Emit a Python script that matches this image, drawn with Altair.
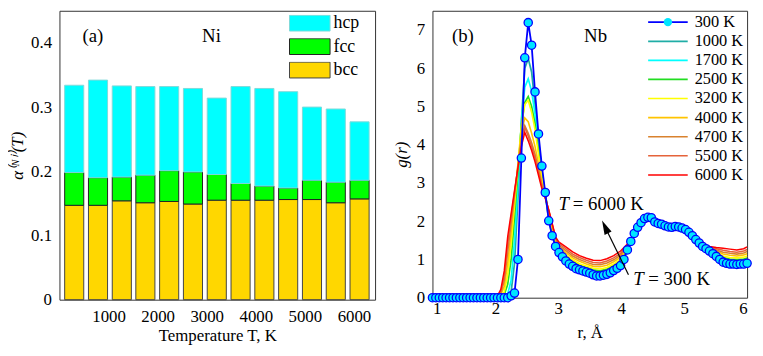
import altair as alt
import pandas as pd

SERIF = "Liberation Serif"

# ---------------- panel (a): Ni stacked bars ----------------
temps = [300, 785, 1270, 1750, 2235, 2720, 3205, 3690, 4175, 4660, 5145, 5630, 6115]
bcc = [0.147, 0.147, 0.154, 0.151, 0.153, 0.149, 0.155, 0.155, 0.155, 0.156, 0.156, 0.151, 0.157]
fcc = [0.051, 0.043, 0.037, 0.043, 0.048, 0.050, 0.040, 0.026, 0.022, 0.018, 0.030, 0.032, 0.029]
hcp = [0.136, 0.152, 0.142, 0.138, 0.131, 0.130, 0.119, 0.151, 0.152, 0.150, 0.114, 0.114, 0.091]
phases = ["hcp", "fcc", "bcc"]
phase_fill = ["#00FFFF", "#00FF00", "#FFD700"]
phase_edge = ["#7FDADA", "#222222", "#444444"]
t_ticks = [1000, 2000, 3000, 4000, 5000, 6000]
a_ticks = [0, 0.1, 0.2, 0.3, 0.4]

# ---------------- panel (b): Nb g(r) ----------------
r_300 = [1.000, 1.054, 1.109, 1.163, 1.217, 1.272, 1.326, 1.380, 1.435, 1.489,
         1.543, 1.598, 1.652, 1.707, 1.761, 1.815, 1.870, 1.924, 1.978, 2.033,
         2.087, 2.141, 2.196, 2.250, 2.304, 2.359, 2.413, 2.467, 2.522, 2.576,
         2.630, 2.685, 2.739, 2.793, 2.848, 2.902, 2.957, 3.011, 3.065, 3.120,
         3.174, 3.228, 3.283, 3.337, 3.391, 3.446, 3.500, 3.554, 3.609, 3.663,
         3.717, 3.772, 3.826, 3.880, 3.935, 3.989, 4.043, 4.098, 4.152, 4.207,
         4.261, 4.315, 4.370, 4.424, 4.478, 4.533, 4.587, 4.641, 4.696, 4.750,
         4.804, 4.859, 4.913, 4.967, 5.022, 5.076, 5.130, 5.185, 5.239, 5.293,
         5.348, 5.402, 5.457, 5.511, 5.565, 5.620, 5.674, 5.728, 5.783, 5.837,
         5.891, 5.946, 6.000]
g_300 = [0, 0, 0, 0, 0, 0, 0, 0, 0, 0,
         0, 0, 0, 0, 0, 0, 0, 0, 0, 0,
         0, 0, 0, 0.05, 0.12, 1.0, 3.65, 6.27, 7.19, 6.6,
         5.38, 4.28, 3.44, 2.75, 2.01, 1.62, 1.34, 1.18, 1.07, 0.96,
         0.88, 0.82, 0.76, 0.73, 0.70, 0.67, 0.64, 0.60, 0.57, 0.57,
         0.59, 0.61, 0.65, 0.71, 0.77, 0.84, 1.0, 1.25, 1.47, 1.68,
         1.84, 1.96, 2.07, 2.10, 2.09, 1.98, 1.94, 1.92, 1.88, 1.85,
         1.84, 1.86, 1.85, 1.82, 1.78, 1.71, 1.62, 1.52, 1.43, 1.34,
         1.28, 1.22, 1.15, 1.08, 1.0, 0.93, 0.90, 0.88, 0.88, 0.87,
         0.88, 0.88, 0.90]

r_lines = [1.0, 1.924, 1.978, 2.033, 2.087, 2.141, 2.196, 2.250, 2.304, 2.359,
           2.413, 2.467, 2.522, 2.576, 2.630, 2.685, 2.739, 2.793, 2.848, 2.902,
           2.957, 3.011, 3.120, 3.228, 3.337, 3.446, 3.554, 3.663, 3.772, 3.880,
           3.989, 4.098, 4.207, 4.315, 4.424, 4.533, 4.641, 4.750, 4.859, 4.967,
           5.076, 5.185, 5.293, 5.402, 5.511, 5.620, 5.728, 5.837, 5.946, 6.0]
g_1000 = [0, 0, 0, 0, 0, 0, 0.02, 0.15, 0.9, 2.6,
          4.6, 6.0, 6.25, 5.9, 5.05, 4.1, 3.3, 2.7, 2.05, 1.65,
          1.38, 1.22, 1.01, 0.87, 0.78, 0.72, 0.65, 0.62, 0.66, 0.76,
          0.89, 1.27, 1.68, 1.95, 2.09, 1.99, 1.93, 1.86, 1.86, 1.82,
          1.70, 1.52, 1.35, 1.24, 1.11, 0.98, 0.93, 0.92, 0.93, 0.96]
g_1700 = [0, 0, 0, 0, 0, 0.02, 0.1, 0.45, 1.5, 3.0,
          4.6, 5.5, 5.72, 5.4, 4.8, 3.95, 3.25, 2.7, 2.1, 1.7,
          1.42, 1.24, 1.05, 0.91, 0.82, 0.75, 0.69, 0.66, 0.70, 0.80,
          0.93, 1.29, 1.67, 1.95, 2.09, 1.99, 1.93, 1.86, 1.86, 1.82,
          1.70, 1.52, 1.35, 1.25, 1.13, 1.01, 0.97, 0.96, 0.97, 1.00]
g_2500 = [0, 0, 0, 0, 0.02, 0.08, 0.35, 1.0, 2.1, 3.3,
          4.5, 5.1, 5.26, 5.0, 4.55, 3.85, 3.2, 2.7, 2.15, 1.75,
          1.45, 1.27, 1.08, 0.95, 0.85, 0.79, 0.73, 0.70, 0.75, 0.84,
          0.97, 1.30, 1.67, 1.95, 2.08, 1.99, 1.94, 1.87, 1.86, 1.81,
          1.70, 1.52, 1.36, 1.26, 1.16, 1.05, 1.01, 1.00, 1.01, 1.04]
g_3200 = [0, 0, 0, 0.02, 0.05, 0.15, 0.6, 1.4, 2.4, 3.5,
          4.5, 5.05, 5.16, 4.85, 4.4, 3.75, 3.15, 2.68, 2.2, 1.8,
          1.5, 1.30, 1.12, 0.99, 0.89, 0.83, 0.77, 0.75, 0.79, 0.88,
          1.01, 1.32, 1.67, 1.94, 2.08, 2.00, 1.94, 1.88, 1.86, 1.81,
          1.69, 1.52, 1.36, 1.27, 1.18, 1.09, 1.05, 1.04, 1.06, 1.09]
g_4000 = [0, 0, 0, 0.02, 0.08, 0.3, 0.9, 1.7, 2.6, 3.5,
          4.3, 4.7, 4.6, 4.3, 3.95, 3.5, 3.0, 2.65, 2.25, 1.85,
          1.52, 1.34, 1.18, 1.04, 0.95, 0.88, 0.82, 0.81, 0.85, 0.94,
          1.06, 1.34, 1.66, 1.94, 2.07, 2.00, 1.95, 1.89, 1.86, 1.81,
          1.69, 1.52, 1.37, 1.29, 1.22, 1.14, 1.11, 1.09, 1.12, 1.15]
g_4700 = [0, 0, 0.01, 0.03, 0.12, 0.45, 1.2, 1.95, 2.7, 3.45,
          4.15, 4.5, 4.3, 4.05, 3.75, 3.35, 2.95, 2.62, 2.27, 1.9,
          1.55, 1.37, 1.23, 1.09, 1.00, 0.93, 0.87, 0.86, 0.91, 0.99,
          1.11, 1.36, 1.66, 1.93, 2.06, 2.01, 1.96, 1.89, 1.86, 1.81,
          1.68, 1.52, 1.38, 1.31, 1.25, 1.19, 1.16, 1.14, 1.17, 1.21]
g_5500 = [0, 0, 0.01, 0.04, 0.17, 0.55, 1.4, 2.1, 2.75, 3.4,
          4.05, 4.45, 4.22, 3.95, 3.65, 3.28, 2.9, 2.61, 2.28, 1.92,
          1.56, 1.41, 1.28, 1.14, 1.05, 0.98, 0.92, 0.91, 0.96, 1.04,
          1.16, 1.38, 1.65, 1.93, 2.06, 2.01, 1.96, 1.90, 1.86, 1.80,
          1.68, 1.52, 1.38, 1.32, 1.28, 1.24, 1.21, 1.19, 1.22, 1.26]
g_6000 = [0, 0, 0.02, 0.05, 0.22, 0.7, 1.6, 2.2, 2.8, 3.4,
          3.95, 4.32, 4.1, 3.85, 3.55, 3.2, 2.85, 2.6, 2.3, 1.95,
          1.58, 1.45, 1.33, 1.20, 1.10, 1.03, 0.98, 0.97, 1.02, 1.10,
          1.22, 1.40, 1.65, 1.92, 2.05, 2.02, 1.97, 1.91, 1.86, 1.80,
          1.67, 1.52, 1.39, 1.34, 1.31, 1.29, 1.27, 1.25, 1.28, 1.33]

T_labels = ["300 K", "1000 K", "1700 K", "2500 K", "3200 K", "4000 K", "4700 K", "5500 K", "6000 K"]
T_colors = ["#0000FF", "#1FADA6", "#00FFFF", "#22DD22", "#FFFF00", "#FFC400", "#D9822E", "#E5633A", "#FF0000"]
T_widths = [1.8, 1.5, 1.5, 1.5, 1.5, 1.5, 1.5, 1.5, 2.4]
line_series = [g_1000, g_1700, g_2500, g_3200, g_4000, g_4700, g_5500, g_6000]
r_ticks = [1, 2, 3, 4, 5, 6]
g_ticks = [0, 1, 2, 3, 4, 5, 6, 7]

# ---------------- build tables ----------------
rows = []
for i, t in enumerate(temps):
    for k, (name, vals) in enumerate([("bcc", bcc), ("fcc", fcc), ("hcp", hcp)]):
        rows.append({"T": t, "phase": name, "val": vals[i], "ord": k})
bars_df = pd.DataFrame(rows)

lrows = []
for lab, vals in zip(T_labels[1:], line_series):
    for r, g in zip(r_lines, vals):
        lrows.append({"r": r, "g": g, "Tk": lab})
lines_df = pd.DataFrame(lrows)
df300 = pd.DataFrame({"r": r_300, "g": g_300, "M": ["300 K"] * len(r_300)})

# ---------------- panel (a) ----------------
xa = alt.X("T:Q", scale=alt.Scale(domain=[100, 6330], nice=False, zero=False),
           axis=alt.Axis(values=t_ticks, format="d", labelPadding=9, titlePadding=3),
           title="Temperature T, K")
ya = alt.Y("val:Q", stack="zero", scale=alt.Scale(domain=[0, 0.45], nice=False),
           axis=alt.Axis(values=a_ticks, format="~g", labelPadding=8, titlePadding=4,
                         titleFontStyle="italic"),
           title="α⁽ᴺⁱ⁾(T)")

rect_path = "M-1,-0.39H1V0.39H-1Z"
bars = alt.Chart(bars_df).mark_bar(size=19.3, strokeWidth=1).encode(
    x=xa,
    y=ya,
    color=alt.Color("phase:N", scale=alt.Scale(domain=phases, range=phase_fill),
                    legend=alt.Legend(orient="none", legendX=232, legendY=4, title=None,
                                      symbolType=rect_path, symbolSize=1681,
                                      symbolStrokeColor="#333333", symbolStrokeWidth=1,
                                      clipHeight=17, rowPadding=4.7, labelOffset=3,
                                      labelFont=SERIF, labelFontSize=18, padding=0,
                                      symbolOpacity=1)),
    stroke=alt.Stroke("phase:N", scale=alt.Scale(domain=phases, range=phase_edge), legend=None),
    order=alt.Order("ord:Q"),
)

ann_a = alt.Chart(pd.DataFrame({"T": [468, 2906], "val": [0.411, 0.411], "t": ["(a)", "Ni"]})).mark_text(
    align="left", baseline="middle", font=SERIF, fontSize=19, color="black"
).encode(x=alt.X("T:Q", title="Temperature T, K"), y=alt.Y("val:Q", title="α⁽ᴺⁱ⁾(T)"), text="t:N")

panel_a = alt.layer(bars, ann_a).properties(width=319, height=292)

# ---------------- panel (b) ----------------
xb = alt.X("r:Q", scale=alt.Scale(domain=[1, 6], nice=False, zero=False),
           axis=alt.Axis(values=r_ticks, format="d", labelPadding=3, titlePadding=8),
           title="r, Å")
yb = alt.Y("g:Q", scale=alt.Scale(domain=[0, 7.5], nice=False),
           axis=alt.Axis(values=g_ticks, format="d", labelPadding=8, titlePadding=6,
                         titleFontStyle="italic"),
           title="g(r)")

LX, LY = 217, 3
legend_b = alt.Legend(
    orient="none", legendX=LX, legendY=LY, title=None, padding=0,
    symbolType="stroke", symbolSize=1600, symbolStrokeWidth=2,
    clipHeight=17, rowPadding=2.3, labelOffset=6,
    labelFont=SERIF, labelFontSize=16.5, zindex=0,
)
legend_marker = alt.Legend(
    orient="none", legendX=LX + 16, legendY=LY, title=None, padding=0,
    symbolType="circle", symbolSize=70, symbolStrokeWidth=1.3,
    symbolFillColor="#00E5FF", symbolStrokeColor="#0000FF", symbolOpacity=1,
    clipHeight=17, labelOpacity=0, labelFontSize=1, zindex=1,
)

lines = alt.Chart(lines_df).mark_line().encode(
    x=xb, y=yb,
    color=alt.Color("Tk:N", scale=alt.Scale(domain=T_labels, range=T_colors), legend=legend_b),
    strokeWidth=alt.StrokeWidth("Tk:N", scale=alt.Scale(domain=T_labels, range=T_widths), legend=None),
)

line300 = alt.Chart(df300).mark_line(color="#0000FF", strokeWidth=1.8).encode(x=xb, y=yb)
pts300 = alt.Chart(df300).mark_point(filled=True, fill="#00E5FF", stroke="#0000FF",
                                      strokeWidth=1.3, size=70, opacity=1).encode(
    x=xb, y=yb,
    shape=alt.Shape("M:N", scale=alt.Scale(domain=["300 K"], range=["circle"]), legend=legend_marker),
)

arrow_df = pd.DataFrame({"r": [4.115], "g": [0.60], "r2": [3.743], "g2": [1.85]})
arrow = alt.Chart(arrow_df).mark_rule(color="black", strokeWidth=1.2).encode(
    x=xb, y=yb, x2="r2:Q", y2="g2:Q")
head = alt.Chart(pd.DataFrame({"r": [3.743], "g": [1.85]})).mark_point(
    shape="M0,-1L0.55,1L-0.55,1Z", filled=True, color="black", size=200, angle=334.5, opacity=1
).encode(x=xb, y=yb)

txt_norm = pd.DataFrame({"r": [1.31, 3.41, 3.23, 4.43], "g": [6.84, 6.84, 2.46, 0.50],
                         "t": ["(b)", "Nb", "= 6000 K", "= 300 K"]})
txt_ital = pd.DataFrame({"r": [3.005, 4.19], "g": [2.46, 0.50], "t": ["T", "T"]})
ann_b1 = alt.Chart(txt_norm).mark_text(align="left", baseline="middle", font=SERIF, fontSize=19,
                                        color="black").encode(x=xb, y=yb, text="t:N")
ann_b2 = alt.Chart(txt_ital).mark_text(align="left", baseline="middle", font=SERIF, fontSize=19,
                                        fontStyle="italic", color="black").encode(x=xb, y=yb, text="t:N")

panel_b = alt.layer(lines, line300, pts300, arrow, head, ann_b1, ann_b2).properties(width=318, height=290)

chart = alt.hconcat(panel_a, panel_b, spacing=16).resolve_scale(
    color="independent", stroke="independent", shape="independent", strokeWidth="independent",
    x="independent", y="independent",
).resolve_legend(
    color="independent", stroke="independent", shape="independent", strokeWidth="independent",
).properties(
    padding={"left": 0, "top": 0, "right": 0, "bottom": 0}
).configure_view(stroke="#333333", strokeWidth=1).configure_axis(
    labelFont=SERIF, titleFont=SERIF, labelFontSize=17, titleFontSize=17,
    labelColor="black", titleColor="black", titleFontWeight="normal",
    domain=False, ticks=False, grid=False,
).configure_legend(labelColor="black")

chart.save("out.html", embed_options={"renderer": "svg", "actions": False})
